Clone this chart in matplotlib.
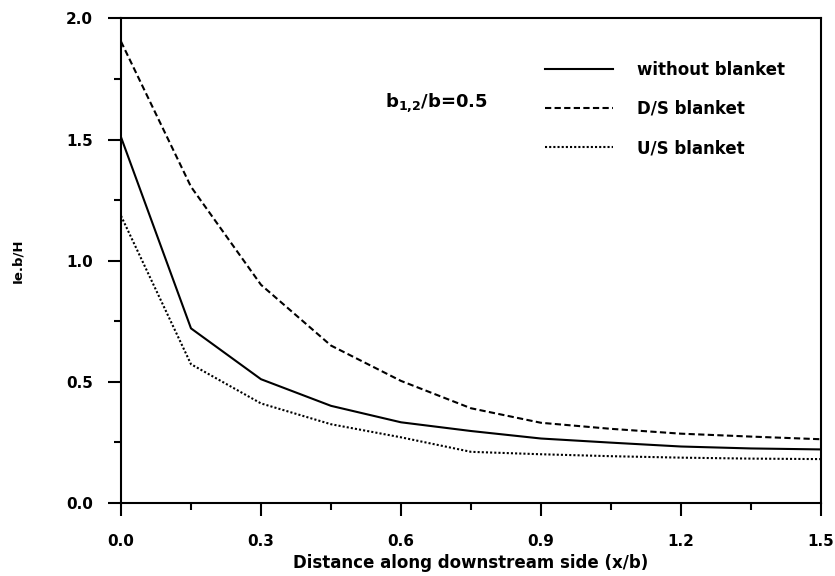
import numpy as np
import matplotlib
matplotlib.use("Agg")
import matplotlib.pyplot as plt
from matplotlib.ticker import MultipleLocator

# --- Data ---
x_vals = [0.0, 0.15, 0.3, 0.45, 0.6, 0.75, 0.9, 1.05, 1.2, 1.35, 1.5]
without_blanket = [1.51, 0.72, 0.51, 0.40, 0.332, 0.296, 0.265, 0.248, 0.232, 0.224, 0.22]
ds_blanket = [1.905, 1.305, 0.90, 0.649, 0.503, 0.39, 0.33, 0.305, 0.285, 0.273, 0.262]
us_blanket = [1.185, 0.572, 0.41, 0.324, 0.27, 0.21, 0.20, 0.192, 0.186, 0.182, 0.18]

labels = ["without blanket", "D/S blanket", "U/S blanket"]
x_ticks = [0.0, 0.3, 0.6, 0.9, 1.2, 1.5]
y_ticks = [0.0, 0.5, 1.0, 1.5, 2.0]

plt.rcParams['font.family'] = ['DejaVu Sans']
plt.rcParams['font.weight'] = 'bold'
plt.rcParams['mathtext.fontset'] = 'custom'
plt.rcParams['mathtext.rm'] = 'DejaVu Sans:bold'
plt.rcParams['mathtext.bf'] = 'DejaVu Sans:bold'
plt.rcParams['mathtext.it'] = 'DejaVu Sans:bold'

fig = plt.figure(figsize=(8.35, 5.76), dpi=100)
ax = fig.add_axes([0.1449, 0.1273, 0.8383, 0.8406])

ax.plot(x_vals, without_blanket, color='black', linewidth=1.5, label=labels[0])
ax.plot(x_vals, ds_blanket, color='black', linewidth=1.5, dashes=(3, 1.6), label=labels[1])
ax.plot(x_vals, us_blanket, color='black', linewidth=1.5, dashes=(1, 1), label=labels[2])

ax.set_xlim(0, 1.5)
ax.set_ylim(0, 2.0)
ax.set_xticks(x_ticks)
ax.set_yticks(y_ticks)
ax.set_xticklabels([f"{v:.1f}" for v in x_ticks])
ax.set_yticklabels([f"{v:.1f}" for v in y_ticks])
ax.xaxis.set_minor_locator(MultipleLocator(0.15))
ax.yaxis.set_minor_locator(MultipleLocator(0.25))

ax.tick_params(which='major', direction='out', length=9.5, width=1.5, labelsize=11)
ax.tick_params(axis='x', which='major', pad=13)
ax.tick_params(axis='y', which='major', pad=10.5)
ax.tick_params(which='minor', direction='out', length=5, width=1.5)
ax.tick_params(top=False, right=False)
for s in ax.spines.values():
    s.set_linewidth(1.5)

ax.set_xlabel("Distance along downstream side (x/b)", fontsize=12, fontweight='bold', labelpad=4)
ax.set_ylabel("Ie.b/H", fontsize=9.5, fontweight='bold', labelpad=30)

ax.text(0.566, 1.636, r'b$_{1{,}2}$/b=0.5', fontsize=13, fontweight='bold', va='baseline', ha='left')

leg = ax.legend(loc='upper left', bbox_to_anchor=(0.606, 0.913), frameon=False,
                fontsize=12, handlelength=4.07, handletextpad=1.44, labelspacing=1.28,
                borderpad=0, borderaxespad=0)

fig.savefig("out.png", dpi=100)
